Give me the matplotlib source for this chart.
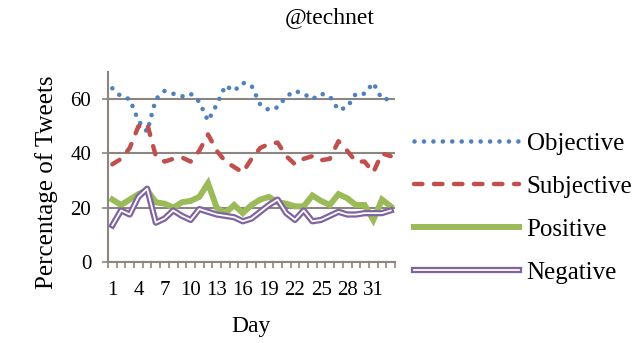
import numpy as np
import matplotlib
matplotlib.use("Agg")
from matplotlib import pyplot as plt
import matplotlib.patheffects as pe

plt.rcParams['font.family'] = ['Liberation Serif', 'DejaVu Serif']

days = np.arange(1, 34)
objective = [64, 61, 60, 52, 48, 60, 63, 62, 61, 62, 59, 52, 58, 65, 63, 66, 65,
             58, 56, 57, 61, 63, 62, 60, 62, 61, 56, 57, 62, 62, 66, 60, 60]
subjective = [36, 38, 42, 50, 51, 39, 37, 38, 38.5, 37, 41, 47, 41, 37, 35, 33, 38,
              42, 43.5, 44, 39, 36, 38, 39, 37.5, 38, 44.5, 41, 37, 37, 33, 40, 39]
positive = [23, 21, 23, 25, 26.5, 22, 21.5, 20, 22, 22.5, 24, 29, 20, 18, 21, 18, 21,
            23, 24, 22, 21.5, 20.5, 20.5, 24.5, 22.5, 21, 25, 23.5, 21, 21, 15.5, 23, 20.5]
negative = [13.5, 19, 17.5, 24, 27, 14.5, 16, 19, 17, 15.5, 19.5, 18.5, 17.5, 17, 16.5, 15, 16,
            18.5, 21, 23, 18, 15.5, 19, 15, 15.5, 17, 18.5, 17.5, 17.5, 18, 18, 18, 19]
tick_days = [1, 4, 7, 10, 13, 16, 19, 22, 25, 28, 31]

grid_col = '#8c8580'

fig = plt.figure(figsize=(6.4, 3.43), dpi=100)
ax = fig.add_axes([108/640, 1-262/343, (395-108)/640, (262-72)/343])

ax.plot(days, objective, color='#4f81bd', lw=3.3, linestyle=(0, (0.01, 2.05)),
        dash_capstyle='round', label='Objective')
ax.plot(days, subjective, color='#c0504d', lw=3.2, linestyle=(0, (1.9, 2.6)),
        dash_capstyle='round', label='Subjective')
ax.plot(days, positive, color='#9bbb59', lw=4.3, solid_joinstyle='miter',
        label='Positive')
ax.plot(days, negative, color='white', lw=1.3, label='Negative',
        path_effects=[pe.Stroke(linewidth=4.5, foreground='#8064a2'), pe.Normal()])

ax.set_xlim(0.5, 33.5)
ax.set_ylim(0, 70)
ax.set_yticks([0, 20, 40, 60])
ax.set_xticks(tick_days)
ax.set_xticks(np.arange(0.5, 34, 1), minor=True)
ax.tick_params(axis='x', which='major', length=0, pad=13.5, labelsize=15)
ax.tick_params(axis='x', which='minor', length=4, width=1.2, color=grid_col)
ax.tick_params(axis='y', length=4, width=1.2, color=grid_col, labelsize=15, pad=8)
ax.yaxis.grid(True, color=grid_col, lw=1.5)
ax.set_axisbelow(True)
for s in ['top', 'right']:
    ax.spines[s].set_visible(False)
for s in ['left', 'bottom']:
    ax.spines[s].set_color(grid_col)
    ax.spines[s].set_linewidth(1.5)

ax.set_ylabel('Percentage of Tweets', fontsize=18)
ax.yaxis.set_label_coords(-0.175, 0.42)
ax.set_xlabel('Day', fontsize=17)
ax.xaxis.set_label_coords(0.5, -0.285)
fig.text(330/640, 1-18/343, '@technet', fontsize=17, ha='center', va='center')

fig.legend(loc='center left', bbox_to_anchor=(391/640, 1-208/343), frameon=False,
           fontsize=18, handlelength=4.2, handletextpad=0.32, labelspacing=0.82)

fig.savefig('out.png', dpi=100)
